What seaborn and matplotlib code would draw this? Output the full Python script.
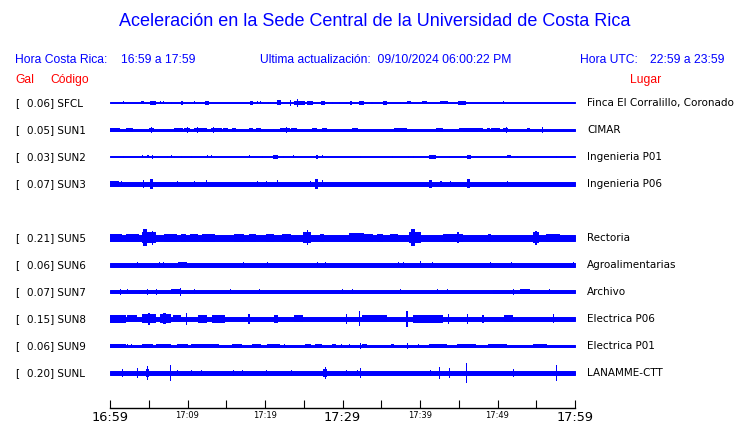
"""Seismic acceleration traces, Sede Central UCR (last hour)."""

import matplotlib
matplotlib.use("Agg")
import matplotlib.pyplot as plt
import seaborn as sns

# --- data -------------------------------------------------------------------
codes = ["SFCL", "SUN1", "SUN2", "SUN3", "SUN4", "SUN5", "SUN6", "SUN7", "SUN8", "SUN9", "SUNL"]
peak_gal = [0.06, 0.05, 0.03, 0.07, None, 0.21, 0.06, 0.07, 0.15, 0.06, 0.20]
places = ["Finca El Corralillo, Coronado", "CIMAR", "Ingenieria P01", "Ingenieria P06", "",
          "Rectoria", "Agroalimentarias", "Archivo", "Electrica P06", "Electrica P01", "LANAMME-CTT"]

# background noise half-width of each trace (display px)
noise_level = [0.5, 0.6, 0.5, 2.2, 0, 2.8, 1.7, 1.5, 2.3, 0.6, 2.0]

# bursts: (start minute, end minute, half amplitude in px), minutes after 16:59
sfcl_events = [(1.7, 1.7, 1.5), (4.0, 4.4, 1.5), (5.2, 5.9, 2.3), (6.5, 6.5, 1.5), (6.8, 6.8, 1.5),
               (7.9, 7.9, 1.2), (9.2, 9.4, 2.2), (10.9, 10.9, 1.5), (12.2, 12.8, 2.2), (18.1, 18.5, 2.2),
               (19.0, 19.0, 1.5), (19.4, 19.4, 1.5), (20.4, 20.4, 1.2), (20.7, 20.7, 1.2), (21.5, 22.1, 2.5),
               (23.2, 23.3, 3.0), (23.8, 25.1, 2.2), (24.1, 24.1, 4.0), (25.4, 26.2, 1.8), (27.2, 27.8, 1.8),
               (28.6, 28.6, 1.2), (29.5, 29.5, 1.2), (30.4, 30.4, 1.2), (31.0, 31.2, 1.8), (32.1, 32.8, 2.0),
               (33.4, 33.4, 1.2), (33.7, 33.9, 1.2), (35.2, 35.7, 2.0), (37.4, 37.4, 1.2), (38.3, 38.9, 1.5),
               (40.2, 40.9, 1.5), (42.6, 43.6, 1.5), (44.9, 45.9, 1.8), (50.7, 50.7, 1.5)]
sun1_events = [(0.0, 1.3, 2.0), (2.0, 3.0, 2.0), (3.3, 4.1, 1.2), (4.6, 4.6, 1.2), (5.0, 5.7, 2.0),
               (5.3, 5.4, 3.0), (6.3, 6.3, 1.2), (6.8, 6.8, 1.2), (7.3, 7.9, 1.2), (8.3, 9.4, 2.0),
               (9.6, 10.3, 2.0), (9.9, 10.0, 3.0), (10.9, 12.5, 2.0), (11.2, 11.3, 3.0), (13.0, 14.4, 2.0),
               (13.3, 13.4, 3.0), (14.6, 15.2, 1.5), (15.7, 16.3, 2.0), (16.6, 17.2, 1.2), (17.9, 18.4, 1.5),
               (18.9, 19.5, 2.0), (20.4, 20.4, 1.2), (21.0, 21.0, 1.2), (21.7, 21.7, 1.2), (21.9, 23.2, 2.2),
               (22.7, 22.8, 3.0), (23.4, 24.1, 1.5), (24.8, 24.8, 1.2), (26.0, 26.7, 1.5), (27.3, 28.0, 2.0),
               (30.1, 30.8, 1.2), (31.2, 32.0, 1.5), (32.7, 32.7, 1.2), (35.2, 35.2, 1.2), (36.1, 39.1, 1.2),
               (36.7, 38.3, 2.0), (41.1, 41.1, 1.2), (42.0, 43.0, 2.0), (43.5, 43.5, 1.2), (44.1, 44.1, 1.2),
               (45.0, 48.1, 1.5), (45.5, 47.5, 2.2), (48.6, 49.0, 1.5), (49.2, 50.3, 2.0), (50.7, 51.4, 2.2),
               (51.1, 51.2, 3.0), (53.8, 54.2, 1.5), (55.7, 55.7, 3.0), (56.8, 56.8, 1.2), (57.9, 57.9, 1.2),
               (58.5, 58.5, 1.2)]
sun2_events = [(1.7, 1.7, 1.2), (4.1, 4.1, 1.5), (4.8, 5.0, 1.5), (5.4, 5.4, 1.8), (7.3, 7.5, 1.2),
               (7.9, 7.9, 1.5), (8.3, 8.3, 1.2), (9.2, 9.2, 1.2), (10.4, 10.4, 1.0), (12.5, 12.5, 1.5),
               (13.0, 13.0, 1.5), (16.2, 16.2, 1.5), (17.9, 17.9, 1.5), (19.6, 19.6, 1.0), (21.0, 21.7, 1.8),
               (22.3, 22.3, 1.0), (23.6, 23.6, 1.5), (26.6, 26.8, 1.8), (27.4, 27.4, 1.5), (32.3, 32.3, 1.2),
               (36.4, 36.4, 1.2), (38.4, 38.4, 1.2), (39.1, 39.1, 1.0), (41.1, 42.0, 1.8), (43.8, 43.8, 1.0),
               (46.1, 46.6, 2.0), (51.2, 51.8, 1.5), (52.5, 52.5, 1.0), (57.5, 57.5, 1.0)]
sun3_events = [(0.0, 1.1, 2.7), (1.4, 1.4, 3.2), (4.3, 4.3, 4.0), (5.2, 5.6, 4.8), (8.6, 8.6, 3.2),
               (10.9, 10.9, 3.2), (12.4, 12.4, 3.5), (19.0, 19.0, 3.2), (20.1, 20.1, 3.2), (21.5, 21.5, 3.5),
               (25.8, 25.8, 3.2), (26.4, 26.8, 5.0), (27.4, 27.4, 3.5), (41.1, 41.5, 4.0), (42.6, 42.8, 3.2),
               (43.9, 43.9, 3.2), (46.1, 46.5, 4.5), (51.2, 51.2, 3.2)]
sun5_events = [(0.0, 1.6, 3.8), (2.0, 3.8, 3.8), (4.1, 5.9, 5.5), (4.3, 4.8, 8.5), (5.4, 5.6, 7.0),
               (7.0, 8.7, 4.0), (9.1, 9.8, 3.8), (10.3, 11.4, 4.2), (11.9, 13.6, 4.0), (16.0, 17.3, 3.8),
               (17.9, 18.9, 4.2), (20.1, 21.1, 3.8), (22.2, 23.3, 3.8), (24.9, 25.9, 5.5), (25.4, 25.6, 7.5),
               (27.1, 27.6, 4.0), (30.9, 32.8, 4.5), (32.8, 33.9, 4.0), (34.4, 35.2, 3.8), (36.1, 37.2, 4.0),
               (38.6, 40.1, 5.5), (38.9, 39.3, 8.5), (43.0, 45.6, 4.0), (44.8, 45.0, 5.5), (48.8, 49.2, 4.0),
               (54.6, 55.3, 5.5), (54.9, 55.1, 7.0), (56.3, 58.0, 4.0)]
sun6_events = [(3.5, 3.5, 3.0), (6.3, 6.3, 3.0), (6.8, 6.8, 2.5), (8.8, 10.0, 2.5), (13.1, 13.1, 2.5),
               (17.2, 17.2, 2.5), (20.3, 20.3, 2.5), (26.7, 26.7, 3.0), (27.8, 27.8, 2.5), (29.1, 29.1, 2.5),
               (37.2, 37.2, 2.5), (37.8, 37.8, 2.5), (40.0, 40.0, 3.5), (41.5, 41.5, 2.5), (49.0, 49.0, 2.5),
               (51.8, 51.8, 2.5), (59.8, 59.8, 2.5)]
sun7_events = [(1.3, 1.3, 3.0), (2.2, 2.2, 2.5), (3.7, 6.1, 2.2), (4.8, 4.8, 3.0), (5.9, 5.9, 3.0),
               (7.9, 9.2, 2.5), (9.0, 9.0, 4.0), (10.9, 10.9, 2.5), (15.5, 15.5, 2.5), (19.2, 19.2, 2.5),
               (29.9, 29.9, 2.5), (31.2, 31.2, 2.5), (37.4, 37.4, 2.5), (42.2, 42.2, 2.5), (43.5, 43.5, 2.5),
               (49.4, 50.3, 2.2), (52.0, 52.0, 3.0), (52.9, 54.2, 2.5), (56.6, 56.6, 2.5)]
sun8_events = [(0.0, 2.0, 4.0), (2.2, 3.5, 3.5), (4.1, 5.9, 4.5), (4.9, 5.1, 6.0), (6.5, 7.9, 4.5),
               (6.9, 7.2, 5.5), (8.1, 9.2, 3.5), (9.8, 10.0, 6.0), (11.4, 12.5, 4.0), (13.1, 14.9, 4.0),
               (17.8, 18.0, 5.0), (21.2, 21.7, 4.0), (23.8, 24.9, 3.5), (30.4, 30.5, 5.0), (32.1, 32.3, 7.5),
               (32.5, 35.8, 3.5), (38.2, 38.4, 8.0), (39.1, 43.0, 4.2), (43.6, 43.8, 5.0), (46.0, 46.2, 5.0),
               (48.0, 48.2, 4.0), (50.9, 52.0, 3.5), (57.1, 57.3, 4.5)]
sun9_events = [(0.0, 2.0, 2.0), (2.2, 2.2, 1.5), (2.7, 2.7, 1.5), (4.1, 5.6, 2.0), (5.9, 7.9, 1.5),
               (8.6, 10.1, 2.0), (10.5, 14.0, 1.5), (15.7, 17.0, 2.0), (18.3, 19.5, 1.5), (20.3, 21.9, 2.0),
               (22.5, 22.5, 1.5), (25.1, 26.0, 1.8), (26.4, 27.3, 1.8), (28.7, 29.1, 1.5), (29.8, 29.8, 1.5),
               (30.8, 30.8, 1.5), (32.3, 32.3, 3.0), (32.5, 33.1, 1.5), (36.3, 36.7, 1.5), (38.3, 38.3, 3.0),
               (39.8, 39.8, 1.5), (41.1, 43.5, 1.8), (44.8, 47.2, 1.8), (48.8, 51.2, 1.5), (54.6, 56.4, 1.5)]
sunl_events = [(0.2, 0.2, 3.0), (1.5, 1.5, 4.0), (3.5, 3.5, 5.0), (4.6, 5.0, 4.0), (4.8, 4.8, 7.0),
               (7.7, 7.7, 8.0), (8.6, 8.6, 3.0), (10.5, 10.5, 3.0), (11.8, 11.8, 3.0), (13.1, 13.1, 3.0),
               (15.9, 15.9, 3.0), (17.0, 17.0, 3.0), (20.1, 20.1, 3.0), (23.4, 23.4, 3.0), (27.5, 28.0, 4.0),
               (27.8, 27.8, 6.0), (30.4, 30.4, 3.0), (31.9, 31.9, 3.0), (32.3, 32.3, 5.0), (40.2, 40.2, 4.0),
               (41.3, 41.3, 3.0), (42.5, 42.5, 6.0), (43.7, 43.7, 5.0), (45.9, 45.9, 10.0), (52.0, 52.0, 4.0),
               (57.5, 57.5, 8.0)]
events = [sfcl_events, sun1_events, sun2_events, sun3_events, [], sun5_events,
          sun6_events, sun7_events, sun8_events, sun9_events, sunl_events]

tick_minutes = list(range(0, 61, 5))
tick_labels = ["16:59", "", "17:09", "", "17:19", "", "17:29", "", "17:39", "", "17:49", "", "17:59"]
big_labels = ["16:59", "17:29", "17:59"]

# --- figure ------------------------------------------------------------------
W, H = 740, 423
BLUE, RED = "#0000ff", "#ff0000"

sns.set_theme(style="white")
plt.rcParams["font.family"] = ["DejaVu Sans"]

fig = plt.figure(figsize=(W / 100, H / 100), dpi=100)
fig.patch.set_facecolor("white")


def px(x, y):
    """Pixel position -> figure fraction."""
    return x / W, 1 - y / H


sans = ["Liberation Sans", "DejaVu Sans"]
head = dict(family=sans, fontsize=8.7, va="center")
fig.text(*px(375, 22), "Aceleración en la Sede Central de la Universidad de Costa Rica",
         color=BLUE, ha="center", va="center", fontsize=13, family=sans)
fig.text(*px(15, 60), "Hora Costa Rica:", color=BLUE, **head)
fig.text(*px(121, 60), "16:59 a 17:59", color=BLUE, **head)
fig.text(*px(260, 60), "Ultima actualización:  09/10/2024 06:00:22 PM", color=BLUE, **head)
fig.text(*px(580, 60), "Hora UTC:", color=BLUE, **head)
fig.text(*px(650, 60), "22:59 a 23:59", color=BLUE, **head)
fig.text(*px(15, 80), "Gal", color=RED, **head)
fig.text(*px(50, 80), "Código", color=RED, **head)
fig.text(*px(630, 80), "Lugar", color=RED, **head)

# trace axes: y in display pixels (1 unit = 1 px), x in minutes after 16:59
ax = fig.add_axes([110 / W, 1 - 408 / H, 465 / W, 318 / H])
ax.set_xlim(0, 60)
ax.set_ylim(408, 90)
ax.set_facecolor("white")

row_gap = 27
for i, code in enumerate(codes):
    if peak_gal[i] is None:
        continue
    y0 = 103 + row_gap * i
    lvl = noise_level[i]
    ax.fill_between([0, 60], y0 - lvl, y0 + lvl, color=BLUE, lw=0.7, antialiased=False)
    for t0, t1, amp in events[i]:
        width = max(t1 - t0, 0.12)
        ax.bar(t0, 2 * amp, width=width, bottom=y0 - amp, align="edge",
               color=BLUE, lw=0, antialiased=False)
    fig.text(*px(15, y0), "[", fontsize=7.5, va="center", color="black")
    fig.text(*px(27, y0), f"{peak_gal[i]:.2f}] {code}", fontsize=7.5, va="center", color="black")
    fig.text(*px(587, y0), places[i], fontsize=7.5, va="center", color="black")

sns.despine(ax=ax, left=True, top=True, right=True)
ax.spines["bottom"].set_color("black")
ax.spines["bottom"].set_linewidth(1)
ax.set_yticks([])
ax.set_xticks(tick_minutes)
ax.set_xticklabels(tick_labels)
ax.tick_params(axis="x", direction="in", length=6, width=0.8, color="black", pad=2,
               bottom=True, labelcolor="black")
for lab in ax.get_xticklabels():
    lab.set_fontsize(9.3 if lab.get_text() in big_labels else 6)
ax.grid(False)

fig.savefig("out.png", dpi=100, facecolor="white")
